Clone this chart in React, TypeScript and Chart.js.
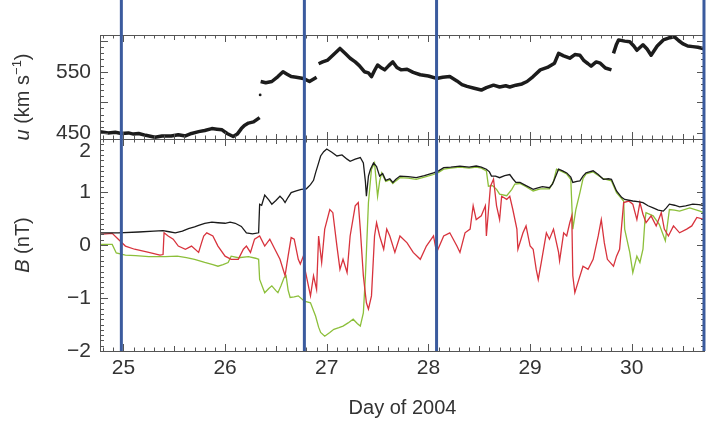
import React, { useEffect, useRef } from "react";
import { Chart, registerables } from "chart.js";

Chart.register(...registerables);

// ---------- data ----------
const xTickDays = [25, 26, 27, 28, 29, 30];
const speedTicks = [450, 550];
const fieldTicks = [-2, -1, 0, 1, 2];
const eventDays = [24.98, 26.78, 28.08, 30.71];

const speedDay = [
  24.77, 24.85, 24.92, 24.98, 25.05, 25.1, 25.15, 25.22, 25.31, 25.38, 25.47, 25.54, 25.61, 25.67,
  25.74, 25.8, 25.87, 25.92, 25.97, 26.02, 26.08, 26.12, 26.16, 26.19, 26.23, 26.28, 26.34,
  26.342, 26.345, 26.348,
  26.35, 26.4, 26.46, 26.52, 26.57, 26.61, 26.65, 26.7, 26.77, 26.83, 26.88, 26.9,
  26.91,
  26.92, 26.96, 27.01, 27.06, 27.13, 27.18, 27.23, 27.28, 27.32, 27.37, 27.41, 27.44, 27.47, 27.5,
  27.54, 27.57, 27.61, 27.65, 27.69, 27.73, 27.79, 27.85, 27.92, 28.0, 28.08, 28.14, 28.21, 28.28,
  28.33, 28.38, 28.45, 28.52, 28.57, 28.64, 28.7, 28.76, 28.8, 28.86, 28.92, 28.97, 29.03, 29.1,
  29.17, 29.24, 29.28, 29.33, 29.39, 29.44, 29.49, 29.53, 29.57, 29.6, 29.65, 29.69, 29.74, 29.8,
  29.81,
  29.82, 29.85, 29.87, 29.93, 29.98, 30.02, 30.05, 30.11, 30.15, 30.19, 30.25, 30.31, 30.36, 30.42,
  30.46, 30.5, 30.55, 30.6, 30.65, 30.72,
];
const speedValue = [
  452, 450, 451, 449, 450, 448, 449, 446, 443, 445, 445, 447, 445, 449,
  452, 454, 457, 456, 455, 449, 444, 448, 457, 462, 466, 468, 475,
  null, 512, null,
  534, 532, 534, 542, 550, 546, 542, 541, 539, 534, 539, 541,
  null,
  563, 566, 569, 577, 588, 580, 572, 566, 560, 550, 548, 542, 552, 561,
  556, 553, 560, 566, 557, 553, 554, 549, 545, 543, 539, 541, 542, 535,
  529, 526, 523, 520, 524, 528, 525, 527, 525, 528, 530, 534, 542, 553,
  557, 564, 580, 576, 572, 578, 577, 568, 563, 559, 566, 564, 556, 553,
  null,
  580, 595, 602, 600, 599, 592, 585, 594, 587, 577, 592, 602, 605, 607,
  601, 596, 592, 591, 590, 587,
];

const fieldMagDay = [
  24.77, 24.95, 25.15, 25.3, 25.39, 25.45, 25.51, 25.58, 25.64, 25.7, 25.74, 25.8, 25.87, 25.93,
  26.0, 26.05, 26.1, 26.16, 26.21, 26.27, 26.33, 26.34, 26.36, 26.39, 26.43, 26.46, 26.5, 26.54,
  26.57, 26.59, 26.62, 26.65, 26.7, 26.75, 26.8, 26.84, 26.87, 26.89, 26.92, 26.94, 26.97, 27.0,
  27.05, 27.1, 27.15, 27.2, 27.23, 27.28, 27.33, 27.36, 27.38, 27.39, 27.41, 27.43, 27.46, 27.49,
  27.52, 27.55, 27.58, 27.62, 27.65, 27.68, 27.72, 27.8, 27.88, 27.96, 28.05, 28.1, 28.15, 28.22,
  28.31, 28.4, 28.47, 28.52, 28.57, 28.6, 28.62, 28.66, 28.7, 28.75, 28.8, 28.83, 28.86, 28.9,
  28.96, 29.03, 29.06, 29.12, 29.19, 29.22, 29.24, 29.28, 29.32, 29.36, 29.4, 29.42, 29.46, 29.49,
  29.52, 29.55, 29.62, 29.67, 29.72, 29.77, 29.8, 29.85, 29.9, 29.93, 30.01, 30.06, 30.11, 30.16,
  30.21, 30.26, 30.31, 30.34, 30.37, 30.42, 30.47, 30.53, 30.6, 30.66, 30.72,
];
const fieldMagValue = [
  0.23, 0.23, 0.245, 0.26, 0.27, 0.25, 0.23, 0.26, 0.31, 0.34, 0.37, 0.41, 0.43, 0.42,
  0.41, 0.43, 0.41, 0.35, 0.23, 0.21, 0.23, 0.77, 0.75, 0.94, 0.85, 0.77, 0.84, 0.92,
  0.86, 0.8, 0.9, 0.99, 1.02, 1.05, 1.06, 1.14, 1.22, 1.36, 1.55, 1.68, 1.76, 1.81,
  1.75, 1.68, 1.7, 1.62, 1.58, 1.62, 1.65, 1.55, 1.2, 0.92, 1.3, 1.43, 1.55, 1.48,
  1.3, 1.35, 1.22, 1.25, 1.18, 1.24, 1.3, 1.29, 1.27, 1.31, 1.36, 1.4, 1.46, 1.47,
  1.49, 1.47, 1.49, 1.47, 1.43, 1.38, 1.3, 1.3, 1.27, 1.31, 1.33, 1.25, 1.18, 1.18,
  1.12, 1.05, 1.07, 1.1, 1.08, 1.15, 1.24, 1.43, 1.4, 1.36, 1.28, 1.18, 1.2, 1.21,
  1.3, 1.36, 1.4, 1.33, 1.24, 1.25, 1.24, 1.02, 0.9, 0.86, 0.83, 0.82, 0.8, 0.74,
  0.7, 0.66, 0.64, 0.7, 0.77, 0.75, 0.72, 0.74, 0.77, 0.76, 0.74,
];

const fieldGreenDay = [
  24.77, 24.89, 24.93, 25.02, 25.12, 25.25, 25.41, 25.53, 25.62, 25.7, 25.8, 25.88, 25.93, 25.98,
  26.03, 26.06, 26.13, 26.23, 26.3, 26.33, 26.34, 26.37, 26.39, 26.43, 26.46, 26.5, 26.52, 26.55,
  26.58, 26.6, 26.62, 26.64, 26.68, 26.72, 26.78, 26.84, 26.89, 26.92, 26.94, 26.98, 27.03, 27.07,
  27.12, 27.16, 27.21, 27.26, 27.3, 27.33, 27.36, 27.38, 27.39, 27.41, 27.44, 27.47, 27.5, 27.52,
  27.54, 27.58, 27.62, 27.65, 27.68, 27.72, 27.8, 27.88, 27.96, 28.05, 28.1, 28.15, 28.22, 28.31,
  28.4, 28.47, 28.52, 28.57, 28.59, 28.63, 28.67, 28.7, 28.77, 28.82, 28.85, 28.9, 28.96, 29.03,
  29.1, 29.19, 29.23, 29.26, 29.32, 29.36, 29.4, 29.42, 29.45, 29.49, 29.52, 29.55, 29.62, 29.67,
  29.72, 29.8, 29.85, 29.92, 29.93, 29.98, 30.01, 30.05, 30.08, 30.11, 30.13, 30.14, 30.21, 30.27,
  30.33, 30.37, 30.42, 30.47, 30.57, 30.67, 30.72,
];
const fieldGreenValue = [
  0.01, 0.01, -0.15, -0.19, -0.2, -0.22, -0.22, -0.21, -0.24, -0.27, -0.33, -0.37, -0.4, -0.37,
  -0.33, -0.21, -0.24, -0.22, -0.25, -0.27, -0.65, -0.8, -0.9, -0.82, -0.77, -0.86, -0.9, -0.77,
  -0.62, -0.58, -0.85, -0.99, -0.98, -0.96, -1.06, -1.09, -1.34, -1.55, -1.65, -1.72, -1.65, -1.59,
  -1.56, -1.53, -1.47, -1.4, -1.48, -1.53, -1.28, -0.6, -0.14, 0.8, 1.43, 1.55, 0.92, 1.2,
  1.36, 1.2, 1.23, 1.16, 1.21, 1.27, 1.26, 1.24, 1.28, 1.33, 1.37, 1.43, 1.45, 1.47,
  1.45, 1.47, 1.45, 1.4, 1.11, 1.12, 1.05, 0.96, 0.93, 1.05, 1.15, 1.16, 1.1, 1.02,
  1.06, 1.06, 1.2, 1.43, 1.38, 1.34, 1.24, 0.3, 0.67, 0.99, 1.25, 1.34, 1.38, 1.31,
  1.25, 1.21, 0.99, 0.83, 0.3, -0.14, -0.52, -0.21, -0.33, -0.08, 0.48, 0.61, 0.55, 0.39,
  0.08, 0.67, 0.66, 0.64, 0.7, 0.64, 0.6,
];

const fieldRedDay = [
  24.77, 24.89, 24.95, 25.02, 25.11, 25.25, 25.36, 25.39, 25.4, 25.44, 25.49, 25.54, 25.61, 25.67,
  25.74, 25.77, 25.79, 25.82, 25.88, 25.93, 26.0, 26.06, 26.13, 26.18, 26.21, 26.25, 26.29, 26.34,
  26.39, 26.44, 26.49, 26.54, 26.59, 26.62, 26.65, 26.68, 26.72, 26.74, 26.77, 26.79, 26.84, 26.87,
  26.9, 26.92, 26.95, 26.98, 27.03, 27.06, 27.1, 27.13, 27.16, 27.2, 27.23, 27.28, 27.31, 27.33,
  27.36, 27.39, 27.41, 27.44, 27.47, 27.49, 27.52, 27.56, 27.59, 27.62, 27.67, 27.72, 27.79, 27.85,
  27.92, 27.98, 28.05, 28.08, 28.15, 28.21, 28.28, 28.31, 28.36, 28.41, 28.44, 28.47, 28.52, 28.56,
  28.57, 28.61, 28.64, 28.67, 28.7, 28.72, 28.77, 28.8, 28.83, 28.87, 28.88, 28.93, 28.96, 29.0,
  29.03, 29.06, 29.08, 29.11, 29.16, 29.19, 29.23, 29.28, 29.29, 29.33, 29.36, 29.39, 29.41, 29.42,
  29.44, 29.47, 29.52, 29.57, 29.62, 29.67, 29.7, 29.73, 29.76, 29.82, 29.85, 29.88, 29.92, 29.97,
  30.01, 30.05, 30.08, 30.11, 30.14, 30.19, 30.24, 30.29, 30.32, 30.36, 30.41, 30.47, 30.54, 30.59,
  30.64, 30.72,
];
const fieldRedValue = [
  0.2, 0.22, 0.11, -0.02, -0.08, -0.14, -0.19, -0.18, 0.23, 0.17, 0.11, -0.02, -0.08, -0.02,
  -0.14, 0.05, 0.17, 0.23, 0.17, -0.02, -0.21, -0.27, -0.27, -0.08, -0.02, -0.14, 0.11, 0.17,
  -0.02, 0.11, -0.08, -0.27, -0.58, -0.21, 0.14, 0.11, -0.27, -0.36, -0.21, -0.5, -0.96, -0.58,
  -0.84, 0.17, -0.33, 0.3, 0.67, 0.61, -0.02, -0.46, -0.27, -0.52, 0.17, 0.74, 0.8, 0.3,
  -0.58, -1.09, -1.21, -0.96, 0.17, 0.42, 0.17, -0.08, 0.3, 0.17, -0.14, 0.17, 0.04, -0.14,
  -0.27, -0.02, 0.17, -0.14, 0.17, 0.23, -0.02, -0.14, 0.23, 0.3, 0.74, 0.48, 0.55, 0.74,
  0.17, 1.11, 1.24, 0.74, 0.48, 0.92, 0.86, 0.92, 0.67, 0.3, -0.08, 0.23, 0.36, -0.02,
  -0.08, -0.46, -0.65, -0.33, 0.23, 0.11, 0.3, -0.14, -0.3, 0.23, 0.17, 0.42, 0.55, -0.58,
  -0.9, -0.71, -0.4, -0.46, -0.27, 0.17, 0.48, 0.04, -0.27, -0.4, -0.21, -0.08, 0.8, 0.83,
  0.77, 0.48, 0.8, 0.58, 0.42, 0.55, 0.36, 0.61, 0.3, 0.17, 0.36, 0.23, 0.3, 0.36,
  0.52, 0.48,
];

// ---------- helpers ----------
const FONT = "'Liberation Sans', Arial, Helvetica, sans-serif";
const toPoints = (days: number[], vals: (number | null)[]) =>
  days.map((d, i) => ({ x: d, y: vals[i] }));
const minus = (v: number) => (v < 0 ? "\u2212" + Math.abs(v) : String(v));

const decorPlugin = {
  id: "decor",
  afterDatasetsDraw(chart: any) {
    const { ctx, scales, chartArea } = chart;
    const x = scales.x;
    const panels = [
      { s: scales.yU, minor: 10, major: 50 },
      { s: scales.yB, minor: 0.1, major: 1 },
    ];
    const L = chartArea.left;
    const R = chartArea.right;
    ctx.save();
    ctx.strokeStyle = "#555";
    ctx.lineWidth = 1;
    for (const p of panels) {
      const s = p.s;
      const T = s.top;
      const B = s.bottom;
      ctx.strokeRect(L + 0.5, T + 0.5, R - L - 1, B - T);
      ctx.beginPath();
      for (let k = Math.ceil(x.min * 10); k <= Math.floor(x.max * 10); k++) {
        const d = k / 10;
        const px = Math.round(x.getPixelForValue(d)) + 0.5;
        const len = k % 10 === 0 ? 7 : k % 5 === 0 ? 5 : 3.5;
        ctx.moveTo(px, B);
        ctx.lineTo(px, B - len);
        ctx.moveTo(px, T);
        ctx.lineTo(px, T + len);
      }
      const n0 = Math.ceil(s.min / p.minor - 1e-6);
      const n1 = Math.floor(s.max / p.minor + 1e-6);
      for (let k = n0; k <= n1; k++) {
        const v = k * p.minor;
        const py = Math.round(s.getPixelForValue(v)) + 0.5;
        const isMajor = Math.abs(v / p.major - Math.round(v / p.major)) < 1e-6;
        const len = isMajor ? 8 : 4;
        ctx.moveTo(L, py);
        ctx.lineTo(L + len, py);
        ctx.moveTo(R, py);
        ctx.lineTo(R - len, py);
      }
      ctx.stroke();
    }
    ctx.strokeStyle = "#3b5b9e";
    ctx.lineWidth = 3;
    ctx.beginPath();
    for (const d of eventDays) {
      const px = x.getPixelForValue(d);
      ctx.moveTo(px, 0);
      ctx.lineTo(px, scales.yB.bottom);
    }
    ctx.stroke();

    const drawTitle = (cy: number, parts: { t: string; it?: boolean; sup?: boolean }[]) => {
      const size = 20;
      const fontOf = (p: any) =>
        `${p.it ? "italic " : ""}${p.sup ? Math.round(size * 0.65) : size}px ${FONT}`;
      let total = 0;
      for (const p of parts) {
        ctx.font = fontOf(p);
        total += ctx.measureText(p.t).width;
      }
      ctx.save();
      ctx.translate(23, cy);
      ctx.rotate(-Math.PI / 2);
      ctx.fillStyle = "#333";
      ctx.textBaseline = "middle";
      ctx.textAlign = "left";
      let xx = -total / 2;
      for (const p of parts) {
        ctx.font = fontOf(p);
        ctx.fillText(p.t, xx, p.sup ? -6 : 0);
        xx += ctx.measureText(p.t).width;
      }
      ctx.restore();
    };
    drawTitle((scales.yU.top + scales.yU.bottom) / 2 + 10, [
      { t: "u", it: true },
      { t: " (km s" },
      { t: "\u22121", sup: true },
      { t: ")" },
    ]);
    drawTitle((scales.yB.top + scales.yB.bottom) / 2, [{ t: "B", it: true }, { t: " (nT)" }]);
    ctx.restore();
  },
};

export default function App() {
  const ref = useRef<HTMLCanvasElement | null>(null);
  useEffect(() => {
    if (!ref.current) return;
    const speedPts = toPoints(speedDay, speedValue);
    const chart = new Chart(ref.current, {
      type: "line",
      data: {
        datasets: [
          {
            label: "u",
            data: speedPts,
            yAxisID: "yU",
            borderColor: "#1c1c1c",
            backgroundColor: "#1c1c1c",
            borderWidth: 3.5,
            borderJoinStyle: "round",
            pointRadius: (c: any) => {
              const i = c.dataIndex;
              const v = speedPts[i];
              if (!v || v.y == null) return 0;
              const prev = speedPts[i - 1];
              const next = speedPts[i + 1];
              return prev && next && prev.y == null && next.y == null ? 1.4 : 0;
            },
            pointBorderWidth: 0,
            spanGaps: false,
            tension: 0,
          },
          {
            label: "|B|",
            data: toPoints(fieldMagDay, fieldMagValue),
            yAxisID: "yB",
            borderColor: "#1a1a1a",
            borderWidth: 1.3,
            pointRadius: 0,
            tension: 0,
          },
          {
            label: "B red",
            data: toPoints(fieldRedDay, fieldRedValue),
            yAxisID: "yB",
            borderColor: "#d8333d",
            borderWidth: 1.3,
            pointRadius: 0,
            tension: 0,
          },
          {
            label: "B green",
            data: toPoints(fieldGreenDay, fieldGreenValue),
            yAxisID: "yB",
            borderColor: "#8cbf3a",
            borderWidth: 1.3,
            pointRadius: 0,
            tension: 0,
          },
        ],
      },
      options: {
        animation: false,
        responsive: false,
        maintainAspectRatio: false,
        events: [],
        layout: { padding: { top: 35, right: 4, left: 0, bottom: 0 } },
        plugins: { legend: { display: false }, tooltip: { enabled: false } },
        scales: {
          x: {
            type: "linear",
            position: "bottom",
            min: 24.77,
            max: 30.72,
            grid: { display: false, drawTicks: false },
            border: { display: false },
            afterBuildTicks: (s: any) => {
              s.ticks = xTickDays.map((v) => ({ value: v }));
            },
            afterFit: (s: any) => {
              s.height = 71;
            },
            ticks: {
              padding: 5,
              color: "#333",
              font: { family: FONT, size: 21 },
              maxRotation: 0,
              autoSkip: false,
              callback: (v: any) => String(v),
            },
            title: {
              display: true,
              text: "Day of 2004",
              color: "#333",
              font: { family: FONT, size: 20 },
              padding: { top: 0, bottom: 2 },
            },
          },
          yU: {
            type: "linear",
            position: "left",
            stack: "panels",
            stackWeight: 104,
            weight: 1,
            min: 440,
            max: 610,
            grid: { display: false, drawTicks: false },
            border: { display: false },
            afterBuildTicks: (s: any) => {
              s.ticks = speedTicks.map((v) => ({ value: v }));
            },
            afterFit: (s: any) => {
              s.width = 100;
            },
            ticks: {
              padding: 9,
              color: "#333",
              font: { family: FONT, size: 21 },
              autoSkip: false,
              callback: (v: any) => minus(Number(v)),
            },
          },
          yB: {
            type: "linear",
            position: "left",
            stack: "panels",
            stackWeight: 212,
            weight: 0,
            min: -2,
            max: 2,
            grid: { display: false, drawTicks: false },
            border: { display: false },
            afterBuildTicks: (s: any) => {
              s.ticks = fieldTicks.map((v) => ({ value: v }));
            },
            afterFit: (s: any) => {
              s.width = 100;
            },
            ticks: {
              padding: 9,
              color: "#333",
              font: { family: FONT, size: 21 },
              autoSkip: false,
              callback: (v: any) => (Number(v) === 2 ? [" ", "2"] : minus(Number(v))),
            },
          },
        },
      } as any,
      plugins: [decorPlugin],
    });
    return () => chart.destroy();
  }, []);

  return (
    <div style={{ position: "fixed", left: 0, top: 0, width: 709, height: 422, background: "#fff" }}>
      <canvas ref={ref} width={709} height={422} style={{ display: "block", width: 709, height: 422 }} />
    </div>
  );
}
